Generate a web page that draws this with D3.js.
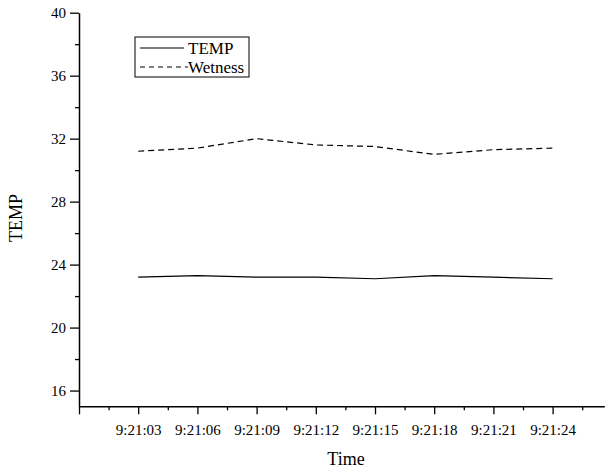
<!DOCTYPE html>
<html>
<head>
<meta charset="utf-8">
<script src="https://cdn.jsdelivr.net/npm/d3@7"></script>
<style>
html,body{margin:0;padding:0;background:#fff;}
svg{display:block;}
text{font-family:"Liberation Serif","Times New Roman",serif;fill:#000;}
</style>
</head>
<body>
<svg id="chart" width="605" height="470"></svg>
<script>
// Data (seconds after 9:21:00)
const times = [3, 6, 9, 12, 15, 18, 21, 24];
const timeLabels = ["9:21:03","9:21:06","9:21:09","9:21:12","9:21:15","9:21:18","9:21:21","9:21:24"];
const tempValues = [23.2, 23.3, 23.2, 23.2, 23.1, 23.3, 23.2, 23.1];
const wetnessValues = [31.2, 31.4, 32.0, 31.6, 31.5, 31.0, 31.3, 31.4];
const yTicks = [16, 20, 24, 28, 32, 36, 40];
const seriesNames = ["TEMP", "Wetness"];

(function () {
const svg = d3.select("#chart");
const mL = 79, mR = 604.3, mT = 12.7, mB = 406.3;

const x = d3.scaleLinear().domain([0, 26.62]).range([mL, mR]);
const y = d3.scaleLinear().domain([15, 40]).range([mB, mT]);

// Y axis
const yMinor = d3.range(18, 40, 4);
svg.append("g").attr("transform", `translate(${mL},0)`)
  .call(d3.axisLeft(y).tickValues(yMinor).tickSize(4).tickFormat(""))
  .call(g => g.select(".domain").remove())
  .selectAll("line").attr("stroke", "#000").attr("stroke-width", 1.3);
const yAx = svg.append("g").attr("transform", `translate(${mL},0)`)
  .call(d3.axisLeft(y).tickValues(yTicks).tickSize(9).tickPadding(4).tickSizeOuter(0).tickFormat(d3.format("d")));
yAx.select(".domain").attr("stroke", "#000").attr("stroke-width", 1.5);
yAx.selectAll("line").attr("stroke", "#000").attr("stroke-width", 1.3);
yAx.selectAll("text").style("font-size", "15px").style("font-family", "'Liberation Serif', serif");

// X axis
const xMajor = d3.range(0, 25, 3);
const xMinor = d3.range(1.5, 27, 3);
svg.append("g").attr("transform", `translate(0,${mB})`)
  .call(d3.axisBottom(x).tickValues(xMinor).tickSize(4).tickFormat(""))
  .call(g => g.select(".domain").remove())
  .selectAll("line").attr("stroke", "#000").attr("stroke-width", 1.3);
const xAx = svg.append("g").attr("transform", `translate(0,${mB})`)
  .call(d3.axisBottom(x).tickValues(xMajor).tickSize(8).tickPadding(10).tickSizeOuter(0)
    .tickFormat(d => { const i = times.indexOf(d); return i >= 0 ? timeLabels[i] : ""; }));
xAx.select(".domain").attr("stroke", "#000").attr("stroke-width", 1.5);
xAx.selectAll("line").attr("stroke", "#000").attr("stroke-width", 1.3);
xAx.selectAll("text").style("font-size", "15px").style("font-family", "'Liberation Serif', serif");

// Axis titles
svg.append("text").attr("x", 346).attr("y", 465).attr("text-anchor", "middle")
  .style("font-size", "18px").text("Time");
svg.append("text").attr("transform", "translate(22,218) rotate(-90)").attr("text-anchor", "middle")
  .style("font-size", "18px").text("TEMP");

// Lines
const line = d3.line().x((d, i) => x(times[i])).y(d => y(d));
svg.append("path").datum(tempValues).attr("d", line)
  .attr("fill", "none").attr("stroke", "#000").attr("stroke-width", 1.2);
svg.append("path").datum(wetnessValues).attr("d", line)
  .attr("fill", "none").attr("stroke", "#000").attr("stroke-width", 1.2).attr("stroke-dasharray", "6,4");

// Legend
const lg = svg.append("g");
lg.append("rect").attr("x", 135).attr("y", 37).attr("width", 114).attr("height", 40)
  .attr("fill", "#fff").attr("stroke", "#000").attr("stroke-width", 1);
lg.append("line").attr("x1", 140).attr("x2", 184).attr("y1", 48).attr("y2", 48)
  .attr("stroke", "#000").attr("stroke-width", 1.2);
lg.append("line").attr("x1", 140).attr("x2", 188).attr("y1", 67).attr("y2", 67)
  .attr("stroke", "#000").attr("stroke-width", 1.2).attr("stroke-dasharray", "5,4");
lg.append("text").attr("x", 188).attr("y", 54).style("font-size", "17px").text(seriesNames[0]);
lg.append("text").attr("x", 188).attr("y", 73).style("font-size", "17px").text(seriesNames[1]);
})();
</script>
</body>
</html>
